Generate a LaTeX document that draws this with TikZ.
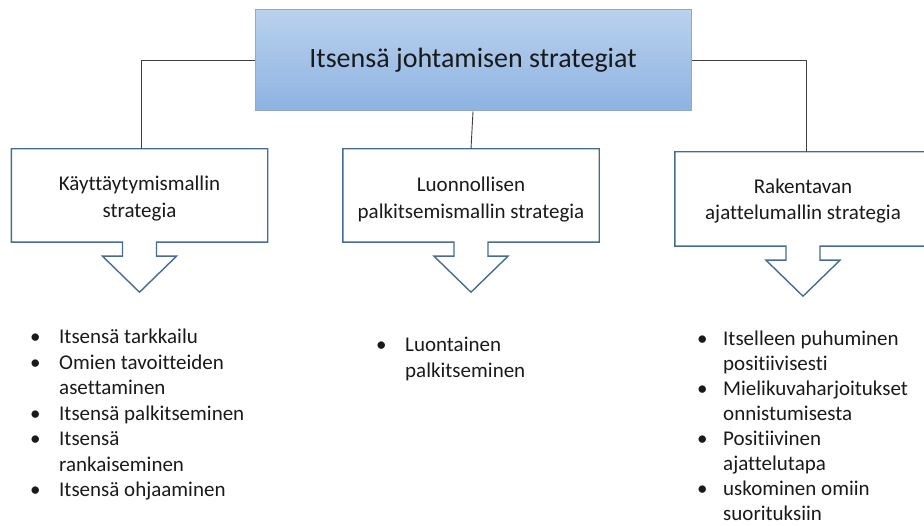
\documentclass[tikz,border=0pt]{standalone}
\usepackage{fontspec}
\setmainfont{Carlito}[Ligatures=CommonOff]
\usetikzlibrary{calc}

\definecolor{calloutline}{HTML}{466C95}
\definecolor{headline}{HTML}{8EA9CB}
\definecolor{headtop}{HTML}{BAD1ED}
\definecolor{headbottom}{HTML}{8DB3E2}
\definecolor{linkgray}{HTML}{404040}
\definecolor{ink}{HTML}{1A1A1A}

\newcommand{\bulletmark}[1]{\makebox[#1][l]{•}}
\newcommand{\indentmark}[1]{\hspace*{#1}}

\tikzset{
  headbox/.style={draw=headline, line width=1pt, top color=headtop, bottom color=headbottom,
    minimum width=436pt, minimum height=101pt, inner sep=0pt, text=ink,
    font=\fontsize{28}{34}\selectfont},
  calloutlabel/.style={minimum width=256pt, minimum height=93pt, inner sep=0pt, align=center,
    text=ink, font=\fontsize{21}{26.5}\selectfont},
  calloutshape/.style={draw=calloutline, line width=1.4pt, fill=white, line join=miter},
  link/.style={draw=linkgray, line width=0.9pt},
  itemlist/.style={anchor=north west, inner sep=0pt, align=left, text=ink,
    font=\fontsize{21}{25.5}\selectfont}
}

\begin{document}
\begin{tikzpicture}[x=1pt, y=-1pt]
  \useasboundingbox (0,0) rectangle (924,526);
  \clip (0,0) rectangle (924,526);

  % heading
  \node[headbox] (top) at (473,60.5) {\raisebox{-3pt}{Itsensä johtamisen strategiat}};

  % three strategy boxes (text holders)
  \node[calloutlabel] (b1) at (139.5,195.5) {};
  \node[calloutlabel] (b2) at (471,195.5) {};
  \node[calloutlabel, minimum height=94pt] (b3) at (803,199) {};

  % callout outlines with downward pointers
  \foreach \b in {b1,b2,b3}{
    \draw[calloutshape]
      (\b.north west) -- (\b.north east) -- (\b.south east)
      -- ($(\b.south)+(17,0)$) -- ++(0,14) -- ++(20,0)
      -- ($(\b.south)+(0,50)$)
      -- ($(\b.south)+(-37,14)$) -- ++(20,0) -- ++(0,-14)
      -- (\b.south west) -- cycle;
  }
  \node[calloutlabel] (t1) at ($(b1)+(0,3)$) {Käyttäytymismallin\\strategia};
  \node[calloutlabel] (t2) at ($(b2)+(0,4)$) {Luonnollisen\\palkitsemismallin strategia};
  \node[calloutlabel, minimum height=94pt] (t3) at ($(b3)+(0,2)$) {Rakentavan\\ajattelumallin strategia};

  % connectors
  \draw[link] (top.west) -| ($(b1.north)+(1.5,0)$);
  \draw[link] (top.south) -- (b2.north);
  \draw[link] (top.east) -| ($(b3.north)+(3,0)$);

  % item lists
  \node[itemlist] (l1) at (30,329) {%
    \bulletmark{29pt}Itsensä tarkkailu\\
    \bulletmark{29pt}Omien tavoitteiden\\
    \indentmark{29pt}asettaminen\\
    \bulletmark{29pt}Itsensä palkitseminen\\
    \bulletmark{29pt}Itsensä\\
    \indentmark{29pt}rankaiseminen\\
    \bulletmark{29pt}Itsensä ohjaaminen};

  \node[itemlist] (l2) at (376,337) {%
    \bulletmark{29pt}Luontainen\\
    \indentmark{29pt}palkitseminen};

  \node[itemlist, font=\fontsize{21}{25}\selectfont] (l3) at (697,331) {%
    \bulletmark{26pt}Itselleen puhuminen\\
    \indentmark{26pt}positiivisesti\\
    \bulletmark{26pt}Mielikuvaharjoitukset\\
    \indentmark{26pt}onnistumisesta\\
    \bulletmark{26pt}Positiivinen\\
    \indentmark{26pt}ajattelutapa\\
    \bulletmark{26pt}uskominen omiin\\
    \indentmark{26pt}suorituksiin};
\end{tikzpicture}
\end{document}
